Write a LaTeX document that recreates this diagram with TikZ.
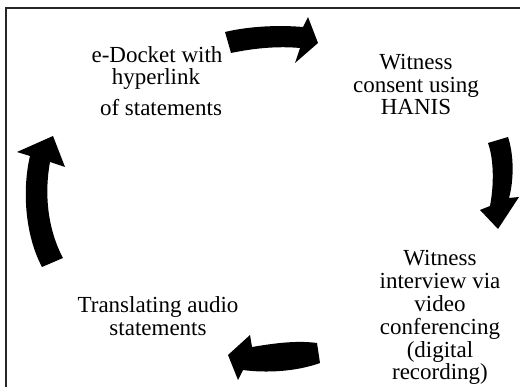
\documentclass[tikz,border=0pt]{standalone}
\usepackage{fontspec}
\setmainfont{Liberation Serif}
\begin{document}
\begin{tikzpicture}[x=1pt,y=-1pt,
  lbl/.style={anchor=base,inner sep=0pt,font=\fontsize{23}{23}\selectfont},
  blk/.style={fill=black,draw=none},
  frame/.style={line width=2pt,draw=black!85}]
\useasboundingbox (0,0) rectangle (520,387);
\begin{scope}
\clip (0,0) rectangle (520,387);
\draw[frame] (5.5,400) -- (5.5,8.5) -- (530,8.5);
\end{scope}
% texts
\node[lbl] (t1a) at (157,63) {e-Docket with};
\node[lbl] (t1b) at (156,85) {hyperlink};
\node[lbl] (t1c) at (161,116) {of statements};
\node[lbl] (t2a) at (416,70) {Witness};
\node[lbl] (t2b) at (416,93) {consent using};
\node[lbl] (t2c) at (416,115) {HANIS};
\node[lbl] (t3a) at (440,266) {Witness};
\node[lbl] (t3b) at (440,289) {interview via};
\node[lbl] (t3c) at (440,312) {video};
\node[lbl] (t3d) at (440,335) {conferencing};
\node[lbl] (t3e) at (440,358) {(digital};
\node[lbl] (t3f) at (440,380) {recording)};
\node[lbl] (t4a) at (158,313) {Translating audio};
\node[lbl] (t4b) at (158,336) {statements};
% top arrow
\fill[blk] (225,32) .. controls (250,26) and (280,25) .. (303,27)
  -- (308,17) -- (318,43) -- (295,63) -- (300,48)
  .. controls (278,46) and (255,48) .. (231,53) -- cycle;
% right arrow
\fill[blk] (488,143) -- (508,137) .. controls (514,155) and (514,180) .. (509,198)
  -- (519,197) -- (498,229) -- (480,210) -- (490,206)
  .. controls (494,185) and (494,160) .. cycle;
% bottom arrow
\fill[blk] (320,363) -- (317,343) .. controls (295,340) and (270,344) .. (252,347)
  -- (250,335) -- (228,355) -- (238,380) -- (243,370)
  .. controls (265,373) and (295,372) .. cycle;
% left arrow
\fill[blk] (42,267) -- (63,258) .. controls (48,230) and (44,195) .. (50,162)
  -- (65,167) -- (53,136) -- (17,152) -- (30,156)
  .. controls (22,190) and (25,235) .. cycle;
\end{tikzpicture}
\end{document}
